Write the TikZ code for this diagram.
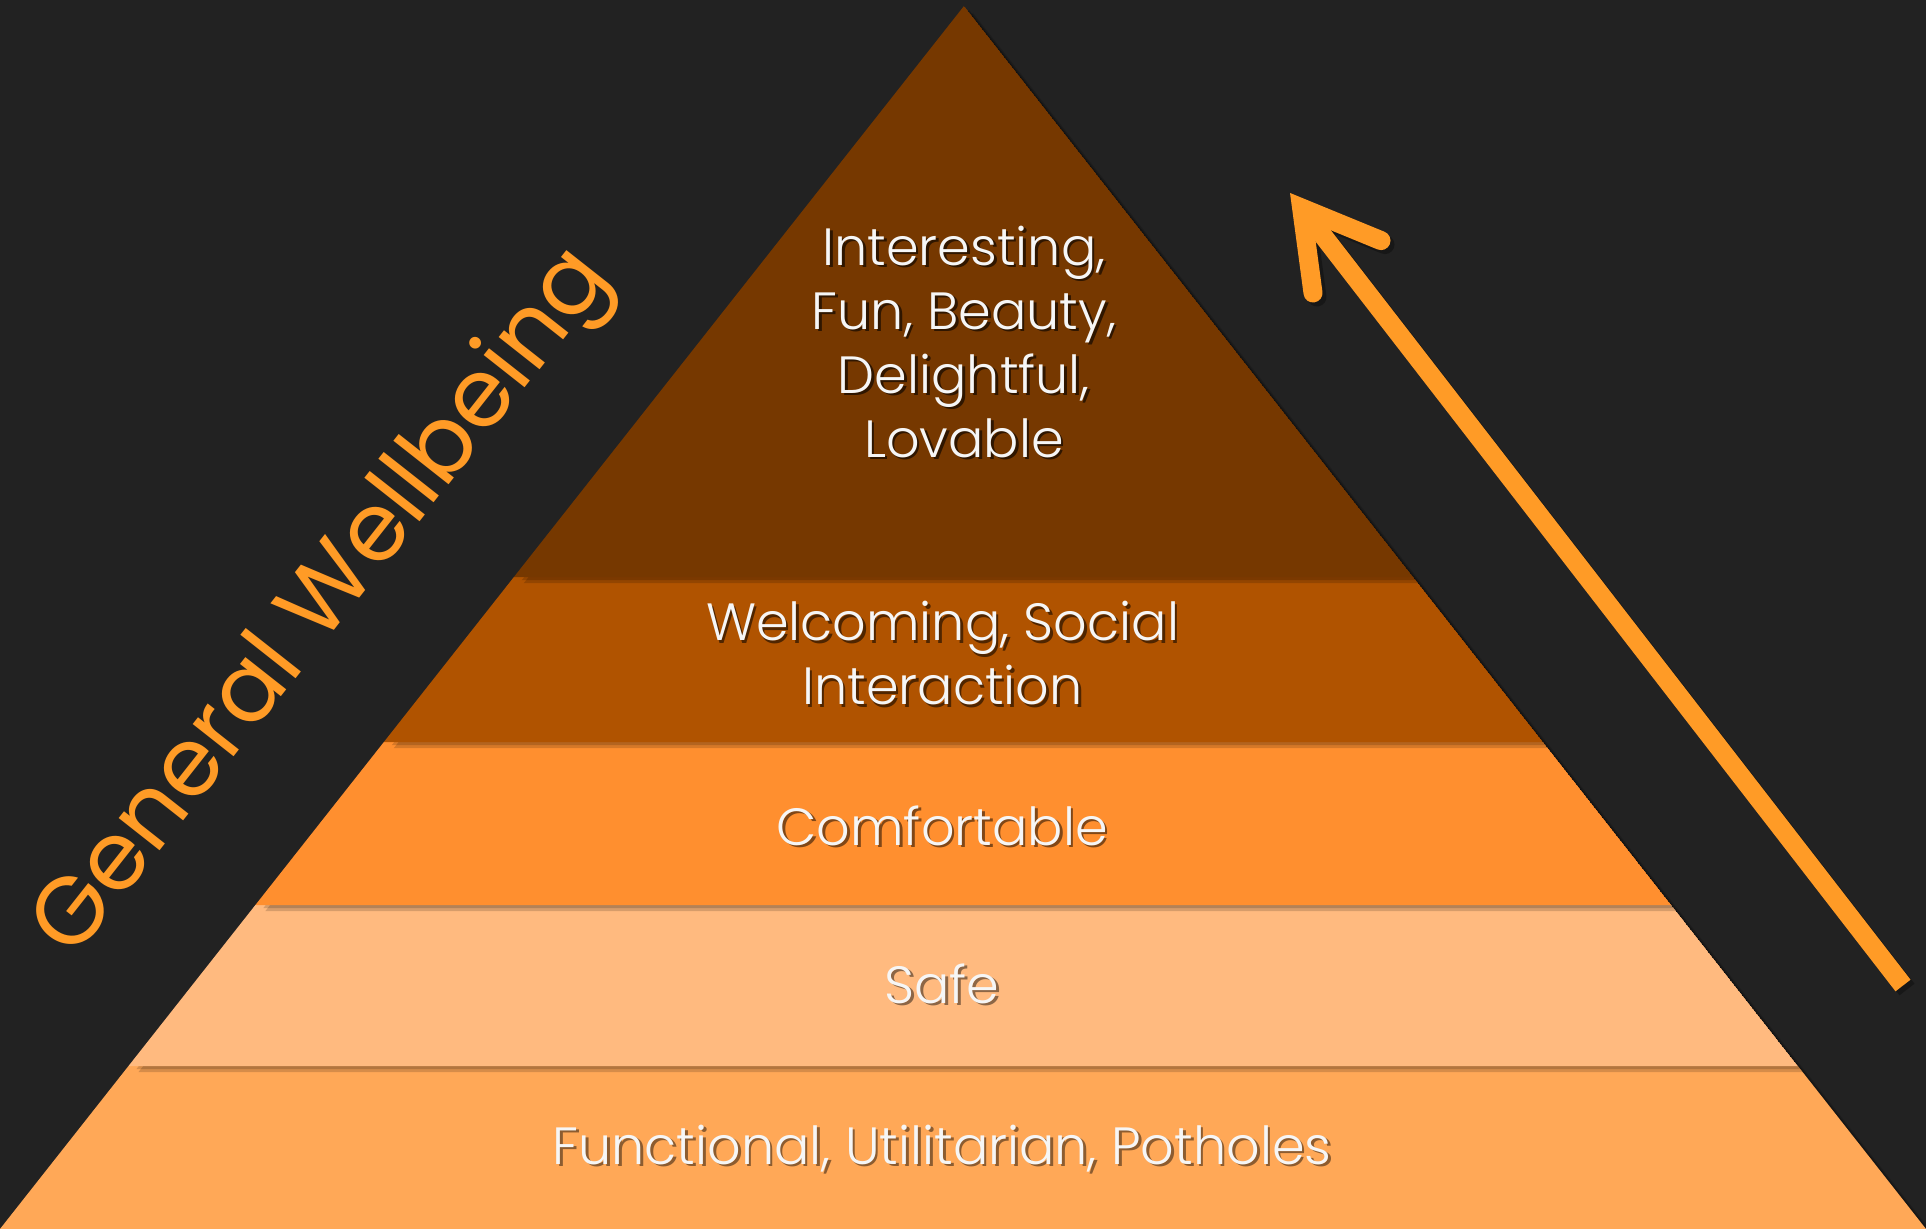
\documentclass[tikz,border=0pt]{standalone}
\usepackage{fontspec}
\IfFontExistsTF{Poppins Light}{\setmainfont{Poppins Light}}{\setmainfont{Poppins}}
\newfontfamily\sidefont{Poppins}
\usetikzlibrary{calc}
\definecolor{bg}{HTML}{222222}
\definecolor{bandA}{HTML}{763800}
\definecolor{bandB}{HTML}{B05300}
\definecolor{bandC}{HTML}{FF8F2F}
\definecolor{bandD}{HTML}{FFBA7F}
\definecolor{bandE}{HTML}{FFA857}
\definecolor{accent}{HTML}{FF9B26}
\definecolor{txt}{HTML}{F6F6F6}
\newcommand\shtext[2]{\leavevmode\rlap{\kern1.3pt\raisebox{-1.3pt}{\textcolor{#1}{#2}}}\textcolor{txt}{#2}}
\tikzset{
  lbl/.style={text=txt, font=\fontsize{26.2}{32}\selectfont, inner sep=0pt, align=center},
  bandshadow/.style={fill=black, opacity=0.16},
  arrowline/.style={draw=accent, line width=9.5pt},
  arrowshadow/.style={draw=black, opacity=0.3, line width=9.5pt},
  sidetext/.style={text=accent, font=\sidefont\fontsize{47.5}{58}\selectfont, inner sep=0pt, rotate=51.75, anchor=base}
}
\begin{document}
\begin{tikzpicture}[x=0.5pt, y=-0.5pt]
\fill[bg] (0,0) rectangle (1926,1229);
\useasboundingbox (0,0) rectangle (1926,1229);
% pyramid corner points
\coordinate (A) at (964,6);
\coordinate (BL) at (0,1229);
\coordinate (BR) at (1926,1229);
\coordinate (L1) at (513.9,577);  \coordinate (R1) at (1413.1,577);
\coordinate (L2) at (383.9,742);  \coordinate (R2) at (1542.9,742);
\coordinate (L3) at (255.4,905);  \coordinate (R3) at (1671.2,905);
\coordinate (L4) at (128.5,1066); \coordinate (R4) at (1797.8,1066);
% pyramid drop shadow
\fill[black, opacity=0.25] ($(A)+(5,4)$) -- ($(BR)+(5,4)$) -- ($(BL)+(5,4)$) -- cycle;
\fill[black, opacity=0.15] ($(A)+(9,7)$) -- ($(BR)+(9,7)$) -- ($(BL)+(9,7)$) -- cycle;
% bands, bottom to top, each casting a small shadow onto the one below
\fill[bandE] (L4) -- (R4) -- (BR) -- (BL) -- cycle;
\begin{scope}
  \clip (A) -- (BR) -- (BL) -- cycle;
  \fill[bandshadow] ($(L3)+(8,3)$) -- ($(R3)+(8,3)$) -- ($(R4)+(8,3)$) -- ($(L4)+(8,3)$) -- cycle;
  \fill[bandshadow] ($(L3)+(10,6)$) -- ($(R3)+(10,6)$) -- ($(R4)+(10,6)$) -- ($(L4)+(10,6)$) -- cycle;
  \fill[bandD] (L3) -- (R3) -- (R4) -- (L4) -- cycle;
  \fill[bandshadow] ($(L2)+(8,3)$) -- ($(R2)+(8,3)$) -- ($(R3)+(8,3)$) -- ($(L3)+(8,3)$) -- cycle;
  \fill[bandshadow] ($(L2)+(10,6)$) -- ($(R2)+(10,6)$) -- ($(R3)+(10,6)$) -- ($(L3)+(10,6)$) -- cycle;
  \fill[bandC] (L2) -- (R2) -- (R3) -- (L3) -- cycle;
  \fill[bandshadow] ($(L1)+(8,3)$) -- ($(R1)+(8,3)$) -- ($(R2)+(8,3)$) -- ($(L2)+(8,3)$) -- cycle;
  \fill[bandshadow] ($(L1)+(10,6)$) -- ($(R1)+(10,6)$) -- ($(R2)+(10,6)$) -- ($(L2)+(10,6)$) -- cycle;
  \fill[bandB] (L1) -- (R1) -- (R2) -- (L2) -- cycle;
  \fill[bandshadow] ($(A)+(8,3)$) -- ($(R1)+(8,3)$) -- ($(L1)+(8,3)$) -- cycle;
  \fill[bandshadow] ($(A)+(10,6)$) -- ($(R1)+(10,6)$) -- ($(L1)+(10,6)$) -- cycle;
  \fill[bandA] (A) -- (R1) -- (L1) -- cycle;
\end{scope}
% labels (text with a soft drop shadow)
\node[lbl] (t1) at (964,343) {\shtext{bandA!40!black}{Interesting,}\\\shtext{bandA!40!black}{Fun, Beauty,}\\\shtext{bandA!40!black}{Delightful,}\\\shtext{bandA!40!black}{Lovable}};
\node[lbl] (t2) at (942.5,654.5) {\shtext{bandB!45!black}{Welcoming, Social}\\\shtext{bandB!45!black}{Interaction}};
\node[lbl, anchor=base] (t3) at (942,845) {\shtext{bandC!50!black}{Comfortable}};
\node[lbl, anchor=base] (t4) at (942,1003) {\shtext{bandD!55!black}{Safe}};
\node[lbl, anchor=base] (t5) at (942,1164) {\shtext{bandE!55!black}{Functional, Utilitarian, Potholes}};
% side title
\node[sidetext] (gw) at (343,619) {General Wellbeing};
% arrow
\coordinate (tail) at (1903,985.5);
\coordinate (tip) at (1301.6,208);
\coordinate (b1) at (1313,293);
\coordinate (b2) at (1381,240.6);
\draw[arrowshadow, line cap=butt] ($(tail)+(4,4)$) -- ($(tip)+(4,4)$);
\draw[arrowshadow, line cap=round, line join=miter] ($(b1)+(4,4)$) -- ($(tip)+(4,4)$) -- ($(b2)+(4,4)$);
\draw[arrowline, line cap=butt] (tail) -- (tip);
\draw[arrowline, line cap=round, line join=miter] (b1) -- (tip) -- (b2);
\end{tikzpicture}
\end{document}
